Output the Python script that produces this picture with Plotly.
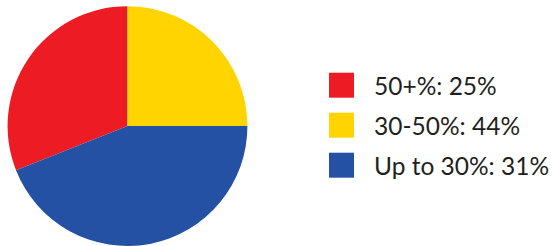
import plotly.graph_objects as go

labels = ["50+%: 25%", "30-50%: 44%", "Up to 30%: 31%"]
slice_values = [31, 25, 44]
colors = ["#ED1C24", "#FFD400", "#2451A3"]

total = sum(slice_values)
fig = go.Figure(go.Pie(
    labels=labels,
    values=slice_values,
    sort=False,
    direction="clockwise",
    rotation=-360 * slice_values[0] / total,
    marker=dict(colors=colors, line=dict(width=0)),
    textinfo="none",
    hoverinfo="label",
    showlegend=False,
    domain=dict(x=[7.3 / 553, 247.7 / 553], y=[0, 0.975]),
))

shapes = []
annotations = []
W, H = 553, 246
for i, (lab, col) in enumerate(zip(labels, colors)):
    yc = 85.2 + 40 * i
    shapes.append(dict(type="rect", xref="paper", yref="paper",
                       x0=329 / W, x1=354 / W,
                       y0=1 - (yc + 12.5) / H, y1=1 - (yc - 12.5) / H,
                       fillcolor=col, line=dict(width=0)))
    annotations.append(dict(text=lab, xref="paper", yref="paper",
                            x=372 / W, y=1 - yc / H, xanchor="left", yanchor="middle",
                            showarrow=False,
                            font=dict(family="Lato", size=24.5, color="#231F20")))

fig.update_layout(width=W, height=H, margin=dict(l=0, r=0, t=0, b=0),
                  paper_bgcolor="white", plot_bgcolor="white",
                  shapes=shapes, annotations=annotations)
fig.write_html("out.html", config={"displayModeBar": False},
               post_script="document.body.style.margin='0';document.body.style.overflow='hidden';")
